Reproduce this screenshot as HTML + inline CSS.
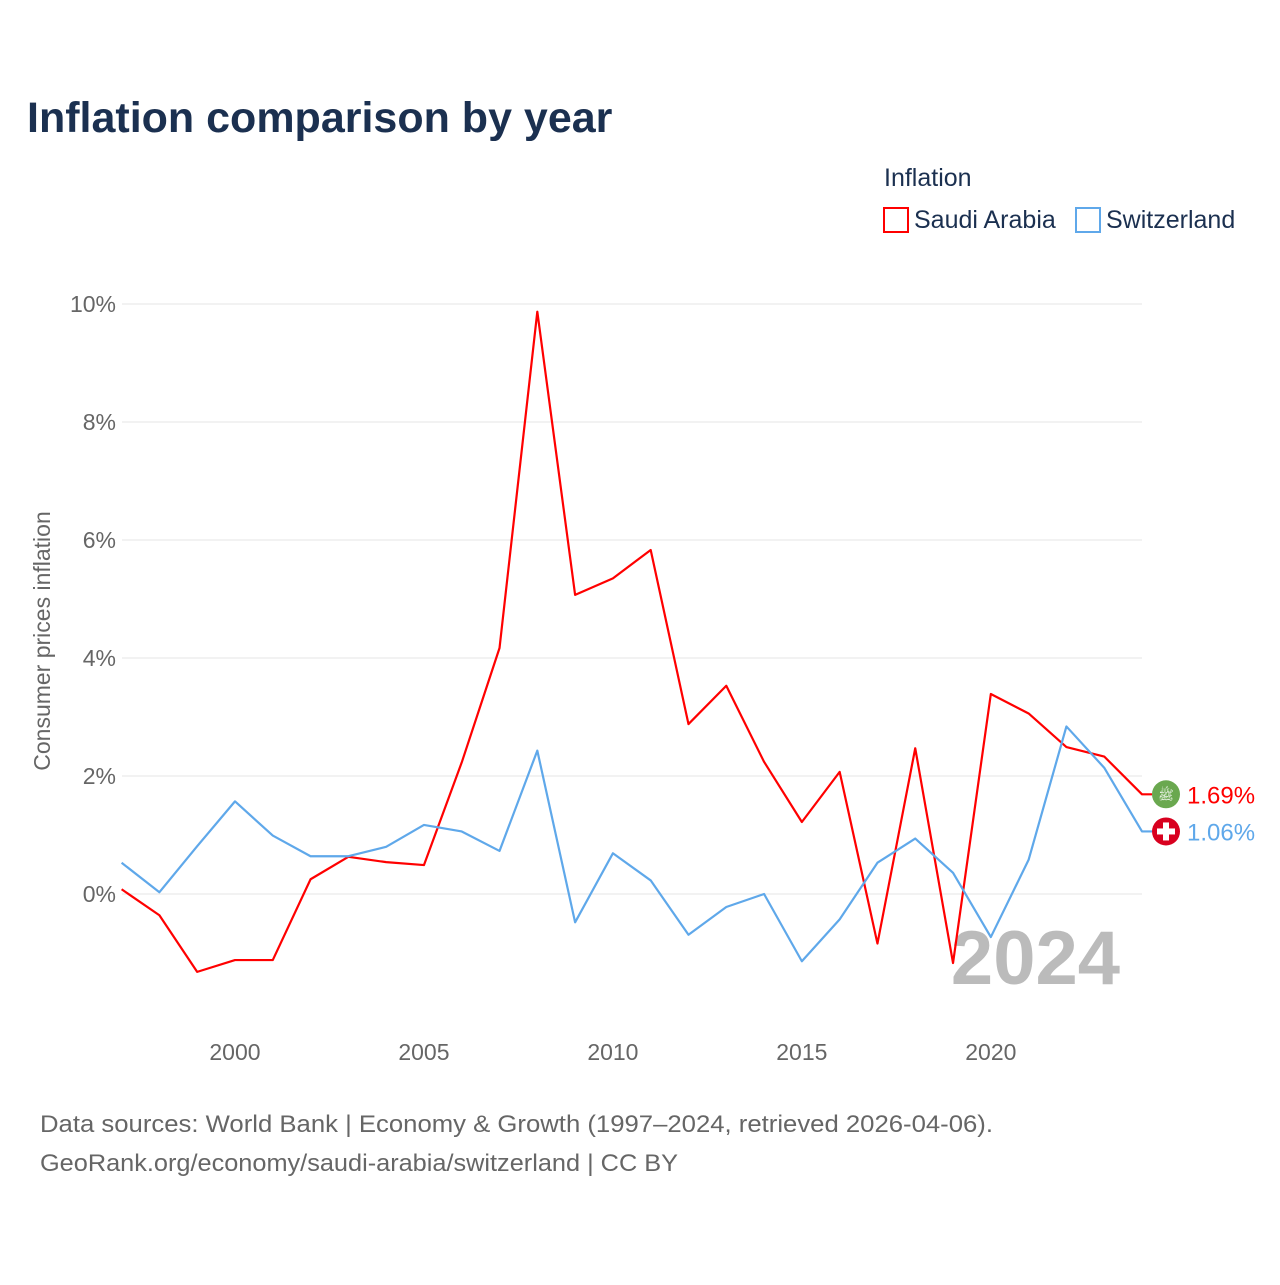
<!DOCTYPE html>
<html><head><meta charset="utf-8"><style>
body{margin:0;background:#fff;font-family:"Liberation Sans",sans-serif;}
svg text{font-family:"Liberation Sans",sans-serif;}
</style></head><body>
<svg id="chart" width="1280" height="1280" viewBox="0 0 1280 1280">
<text x="27" y="132" font-size="43" font-weight="bold" fill="#1b3050">Inflation comparison by year</text>
<text x="884" y="186" font-size="25" fill="#1b3050">Inflation</text>
<g><rect x="884" y="208" width="24" height="24" fill="none" stroke="#f00" stroke-width="2"/><text x="914" y="228" font-size="25" fill="#1b3050">Saudi Arabia</text></g>
<g><rect x="1076" y="208" width="24" height="24" fill="none" stroke="#5fa8ea" stroke-width="2"/><text x="1106" y="228" font-size="25" fill="#1b3050">Switzerland</text></g>
<text transform="translate(50,641) rotate(-90)" text-anchor="middle" font-size="23" fill="#666">Consumer prices inflation</text>
<g id="grid"></g><g id="yticks"></g><g id="xticks"></g>
<text x="1120" y="984" text-anchor="end" font-size="76" font-weight="bold" fill="#bbb">2024</text>
<g id="series"></g>
<text x="40" y="1132" font-size="24" fill="#666" textLength="953" lengthAdjust="spacingAndGlyphs">Data sources: World Bank | Economy &amp; Growth (1997–2024, retrieved 2026-04-06).</text>
<text x="40" y="1171" font-size="24" fill="#666" textLength="638" lengthAdjust="spacingAndGlyphs">GeoRank.org/economy/saudi-arabia/switzerland | CC BY</text>
</svg>
<script>
const years=[];for(let y=1997;y<=2024;y++)years.push(y);
const saudi=[0.08,-0.36,-1.32,-1.12,-1.12,0.25,0.63,0.54,0.49,2.23,4.17,9.87,5.07,5.35,5.83,2.88,3.53,2.24,1.22,2.07,-0.84,2.47,-1.17,3.39,3.06,2.49,2.33,1.69];
const swiss=[0.53,0.03,0.81,1.57,0.99,0.64,0.64,0.80,1.17,1.06,0.73,2.43,-0.48,0.69,0.23,-0.69,-0.22,0.0,-1.14,-0.43,0.53,0.94,0.36,-0.73,0.58,2.84,2.14,1.06];
const yTicks=[0,2,4,6,8,10];
const xTicks=[2000,2005,2010,2015,2020];
const NS="http://www.w3.org/2000/svg";
const X=y=>121.6+(y-1997)*(1142-121.6)/27;
const Y=v=>894-v*59;
function mk(t,a,p){const e=document.createElementNS(NS,t);for(const k in a)e.setAttribute(k,a[k]);p.appendChild(e);return e;}
const grid=document.getElementById('grid'),yt=document.getElementById('yticks'),xt=document.getElementById('xticks'),ser=document.getElementById('series');
yTicks.forEach(v=>{
 const l=mk('line',{x1:122,x2:1142,y1:Y(v),y2:Y(v),stroke:'#e4e4e4','stroke-width':1},grid);
 
 
 const t=mk('text',{x:116,y:Y(v)+8,'text-anchor':'end','font-size':23,fill:'#666'},yt);t.textContent=v+'%';
 
 
});
xTicks.forEach(v=>{
 const t=mk('text',{x:X(v),y:1060,'text-anchor':'middle','font-size':23,fill:'#666'},xt);t.textContent=v;
 
 
});
function line(vals,col,name){
 const pts=vals.map((v,i)=>X(years[i])+','+Y(v)).join(' ');
 const last=vals[vals.length-1];
 const p=mk('polyline',{points:pts+' '+(X(2024)+10)+','+Y(last),fill:'none',stroke:col,'stroke-width':2.2,'stroke-linejoin':'round'},ser);
 
 
 return last;
}
const ls=line(saudi,'#f00','saudi-arabia');
const lw=line(swiss,'#5fa8ea','switzerland');
const c1=mk('circle',{cx:1166,cy:Y(ls),r:14,fill:'#6aa84f'},ser);


const f1=mk('text',{x:1166,y:Y(ls)+5,'text-anchor':'middle','font-size':13,fill:'#fff'},ser);f1.textContent='ﷺ';
const c2=mk('circle',{cx:1166,cy:Y(lw),r:14,fill:'#d8001f'},ser);


mk('rect',{x:1163,y:Y(lw)-9,width:6,height:18,fill:'#fff'},ser);
mk('rect',{x:1157,y:Y(lw)-3,width:18,height:6,fill:'#fff'},ser);
const t1=mk('text',{x:1187,y:Y(ls)+9,'font-size':24,fill:'#f00'},ser);t1.textContent=ls.toFixed(2)+'%';


const t2=mk('text',{x:1187,y:Y(lw)+9,'font-size':24,fill:'#5fa8ea'},ser);t2.textContent=lw.toFixed(2)+'%';


</script>
</body></html>
